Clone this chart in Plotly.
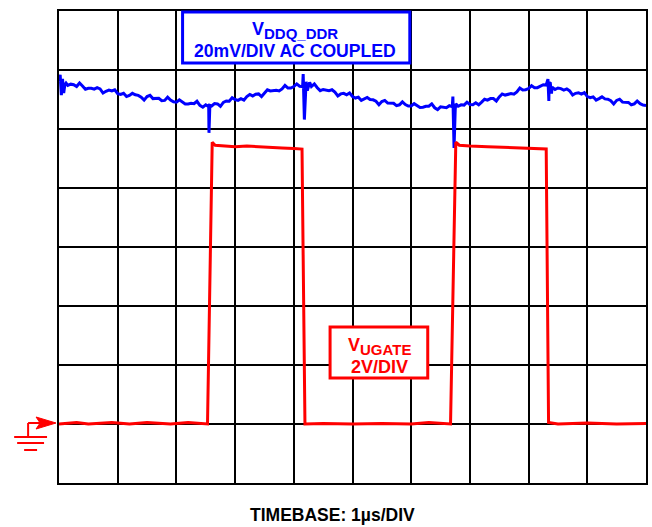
import plotly.graph_objects as go

# ---------------- data ----------------
# Time axis: 1 us / DIV, 10 divisions
# V_UGATE (volts), 2 V/DIV, ground marker at 1 division from the bottom
red_t = [0.0, 0.3, 0.5, 0.9, 1.2, 1.5, 1.9, 2.2, 2.53, 2.61, 2.66, 2.8, 3.0, 3.2, 3.5, 3.8, 4.0, 4.14,
         4.19, 4.5, 5.0, 5.5, 6.0, 6.3, 6.67, 6.76, 6.82, 7.0, 7.3, 7.6, 7.9, 8.1, 8.30, 8.34, 8.5, 9.0,
         9.5, 10.0]
red_v = [0.0, 0.05, 0.0, 0.05, 0.0, 0.05, 0.0, 0.05, 0.0, 9.55, 9.45, 9.42, 9.4, 9.42, 9.38, 9.36, 9.34, 9.32,
         0.0, 0.02, 0.0, 0.02, 0.0, 0.05, 0.0, 9.55, 9.45, 9.42, 9.4, 9.38, 9.37, 9.35, 9.32,
         0.05, 0.0, 0.03, 0.0, 0.02]

# V_DDQ_DDR (mV, AC coupled), 20 mV/DIV, read every 0.1 us (t = 0.0 ... 10.0)
blue_mv = [6.0, 5.0, 5.2, 4.4, 4.6, 3.8, 3.5, 3.6, 2.8, 2.9,
           2.0, 2.1, 1.4, 1.6, 0.8, 1.0, 0.3, 0.4, -0.3, -0.2,
           -0.9, -0.8, -1.5, -1.4, -2.0, -1.8, -2.2, -1.5, -1.0, -0.6,
           0.0, 0.3, 1.0, 1.2, 1.9, 2.3, 2.9, 3.1, 3.6, 3.9,
           4.4, 4.5, 4.9, 4.4, 4.0, 3.4, 3.0, 2.5, 1.9, 1.6,
           1.0, 0.8, 0.2, 0.0, -0.6, -0.7, -1.2, -1.3, -1.8, -1.7,
           -2.2, -2.1, -2.6, -2.3, -2.8, -2.5, -2.8, -2.4, -2.3, -1.9,
           -1.7, -1.1, -0.9, -0.2, 0.3, 0.9, 1.5, 2.0, 2.6, 3.2,
           3.7, 4.0, 4.6, 4.9, 4.2, 3.9, 3.2, 2.9, 2.1, 1.8,
           1.0, 0.9, 0.3, 0.2, -0.4, -0.3, -0.9, -1.0, -1.5, -1.4,
           -2.0]
# noise readings in between (t = 0.05 ... 9.95)
blue_mid_mv = [5.0, 4.8, 5.0, 5.6, 3.5, 3.8, 4.0, 2.2, 3.2, 3.3,
               1.7, 1.0, 2.1, 1.4, -0.2, 1.4, 0.4, -0.4, 0.8, -0.8,
               -0.1, -1.5, -1.3, -0.6, -2.6, -1.9, -1.4, -2.3, -0.5, 0.6,
               -0.3, -0.2, 1.7, 1.8, 1.0, 3.3, 3.0, 2.9, 4.8, 3.9,
               5.3, 4.4, 4.9, 5.3, 3.0, 3.3, 3.3, 1.2, 2.1, 2.2,
               0.5, -0.3, 0.7, -0.1, -1.8, -0.3, -1.3, -2.1, -0.8, -2.2,
               -1.4, -2.7, -2.3, -1.5, -3.4, -2.6, -2.1, -3.4, -1.8, -0.9,
               -1.8, -1.8, 0.1, 0.3, -0.5, 1.9, 1.8, 1.8, 3.9, 3.3,
               4.7, 4.0, 5.0, 5.7, 3.4, 3.7, 3.6, 1.5, 2.3, 2.3,
               0.6, -0.2, 0.9, 0.1, -1.5, 0.1, -1.0, -1.8, -0.5, -1.9]

# switching spikes on the V_DDQ trace
spike_t = [0.02, 0.04, 0.06, 0.08, 0.12,
           2.53, 2.555, 2.57,
           4.16, 4.18, 4.21, 4.23, 4.27,
           6.71, 6.73, 6.76,
           8.33, 8.345, 8.37, 8.39]
spike_mv = [8.4, 1.5, 7.0, 2.2, 5.6,
            -2.2, -11.3, -2.0,
            8.6, -6.8, 6.0, 3.0, 5.8,
            1.0, -16.4, -1.5,
            6.9, -0.5, 5.5, 2.0]

RED_ZERO_DIV, RED_V_PER_DIV = 1.0, 2.0
BLUE_ZERO_DIV, BLUE_MV_PER_DIV = 6.5, 20.0

# ---------------- build ----------------
blue_t = [i / 10 for i in range(len(blue_mv))]
blue_mid_t = [i / 10 + 0.05 for i in range(len(blue_mid_mv))]
bt = blue_t + blue_mid_t + spike_t
bv = blue_mv + blue_mid_mv + spike_mv
order = sorted(range(len(bt)), key=lambda i: bt[i])
bt = [bt[i] for i in order]
bv = [bv[i] for i in order]

fig = go.Figure()
fig.add_trace(go.Scatter(x=bt, y=[BLUE_ZERO_DIV + v / BLUE_MV_PER_DIV for v in bv],
                         mode="lines", line=dict(color="#0000FF", width=3), hoverinfo="skip"))
fig.add_trace(go.Scatter(x=red_t, y=[RED_ZERO_DIV + v / RED_V_PER_DIV for v in red_v],
                         mode="lines", line=dict(color="#FF0000", width=3), hoverinfo="skip"))

W, H = 652, 527
L, R, T, B = 59, 4, 11, 44
PW, PH = W - L - R, H - T - B


def px(x):
    return (x - L) / PW


def py(y):
    return (H - B - y) / PH


FONT = "Arial, Liberation Sans, sans-serif"

axis = dict(showgrid=True, gridcolor="black", gridwidth=2, dtick=1, showticklabels=False,
            ticks="", zeroline=False, showline=True, mirror=True, linecolor="black", linewidth=2,
            fixedrange=True)

shapes = [
    # label boxes
    dict(type="rect", xref="paper", yref="paper", x0=px(183), x1=px(411), y0=py(63), y1=py(12),
         line=dict(color="#0000FF", width=3), fillcolor="white", layer="above"),
    dict(type="rect", xref="paper", yref="paper", x0=px(331), x1=px(429), y0=py(378), y1=py(327),
         line=dict(color="#FF0000", width=3), fillcolor="white", layer="above"),
    # ground marker
    dict(type="line", xref="paper", yref="paper", x0=px(28), x1=px(40), y0=py(423), y1=py(423),
         line=dict(color="#FF0000", width=2)),
    dict(type="path", xref="paper", yref="paper",
         path=f"M {px(36)},{py(417)} L {px(56)},{py(423)} L {px(36)},{py(429)} L {px(40)},{py(423)} Z",
         fillcolor="#FF0000", line=dict(color="#FF0000", width=1)),
    dict(type="line", xref="paper", yref="paper", x0=px(28), x1=px(28), y0=py(423), y1=py(437),
         line=dict(color="#FF0000", width=2)),
    dict(type="line", xref="paper", yref="paper", x0=px(14), x1=px(47), y0=py(437), y1=py(437),
         line=dict(color="#FF0000", width=2)),
    dict(type="line", xref="paper", yref="paper", x0=px(17), x1=px(44), y0=py(443), y1=py(443),
         line=dict(color="#FF0000", width=2)),
    dict(type="line", xref="paper", yref="paper", x0=px(24), x1=px(37), y0=py(450), y1=py(450),
         line=dict(color="#FF0000", width=2)),
]


def label(x, y, text, color, size=18):
    return dict(xref="paper", yref="paper", x=px(x), y=py(y), xanchor="center", yanchor="middle",
                text=text, showarrow=False, font=dict(family=FONT, size=size, color=color))


SUB = '<sub><span style="font-size:15px">{}</span></sub>'
annotations = [
    label(296, 30, "<b>V" + SUB.format("DDQ_DDR") + "</b>", "#0000FF"),
    label(296, 51, "<b>20mV/DIV AC COUPLED</b>", "#0000FF", 17.6),
    label(381, 346, "<b>V" + SUB.format("UGATE") + "</b>", "#FF0000"),
    label(381, 367, "<b>2V/DIV</b>", "#FF0000"),
    label(333, 515, "<b>TIMEBASE: 1µs/DIV</b>", "black", 17.5),
]

fig.update_layout(
    width=W, height=H, margin=dict(l=L, r=R, t=T, b=B),
    paper_bgcolor="white", plot_bgcolor="white", showlegend=False,
    xaxis=dict(range=[0, 10], **axis), yaxis=dict(range=[0, 8], **axis),
    shapes=shapes, annotations=annotations,
)

fig.write_html("out.html", config={"displayModeBar": False},
               post_script="document.body.style.margin='0px';")
